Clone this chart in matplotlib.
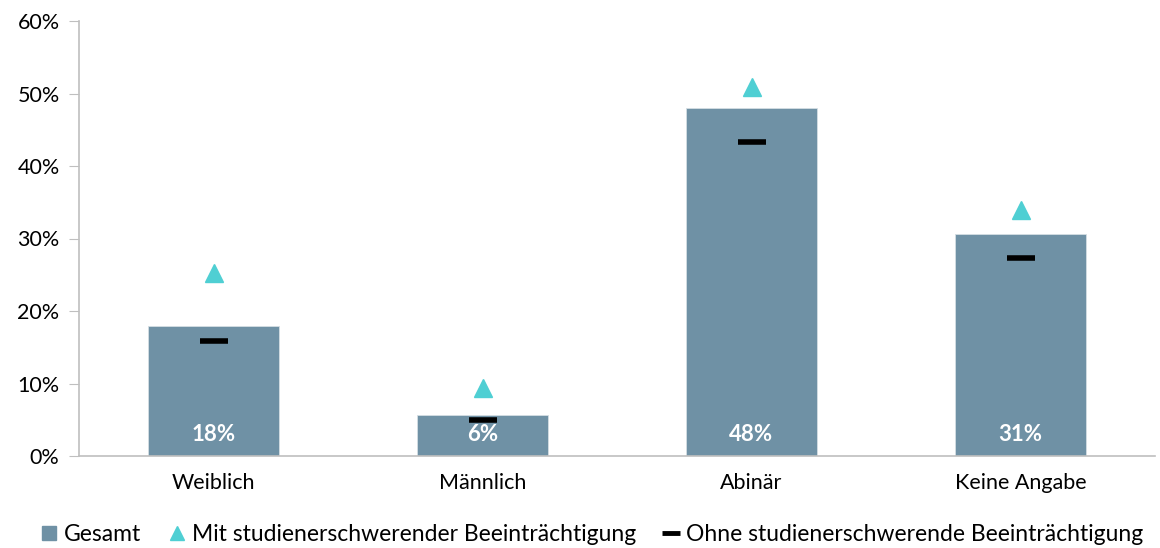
import numpy as np
import matplotlib.pyplot as plt
from matplotlib.ticker import PercentFormatter
from matplotlib.lines import Line2D

# data
categories = ['Weiblich', 'Männlich', 'Abinär', 'Keine Angabe']
gesamt = [17.9, 5.7, 48.0, 30.6]
mit_beeintr = [25.2, 9.4, 50.9, 33.9]
ohne_beeintr = [15.9, 5.0, 43.3, 27.3]
bar_labels = ['18%', '6%', '48%', '31%']

bar_col = '#6F91A5'
tri_col = '#4FCFD3'

plt.rcParams['font.family'] = ['Lato', 'DejaVu Sans']

fig = plt.figure(figsize=(11.6, 5.48), dpi=100)
ax = fig.add_axes([79/1160, 92/548, 1076/1160, 435/548])

x = np.arange(len(categories))
ax.bar(x, gesamt, width=0.49, color=bar_col, edgecolor='#D5DEE4', linewidth=0.6, zorder=2)
ax.plot(x, mit_beeintr, linestyle='none', marker='^', markersize=13, color=tri_col, zorder=3)
ax.plot(x, ohne_beeintr, linestyle='none', marker='_', markersize=20, markeredgewidth=4,
        color='black', zorder=3)

for xi, lab in zip(x, bar_labels):
    ax.text(xi, 3.0, lab, ha='center', va='center', color='white', fontsize=16,
            fontweight='bold', zorder=4)

ax.set_xlim(-0.5, len(categories) - 0.5)
ax.set_ylim(0, 60)
ax.set_yticks(np.arange(0, 61, 10))
ax.yaxis.set_major_formatter(PercentFormatter(decimals=0))
ax.set_xticks(x)
ax.set_xticklabels(categories)
ax.tick_params(axis='y', length=7, color='#BFBFBF', labelsize=15.5, pad=7)
ax.tick_params(axis='x', length=0, labelsize=15.5, pad=12)

for side in ['top', 'right']:
    ax.spines[side].set_visible(False)
for side in ['left', 'bottom']:
    ax.spines[side].set_color('#BFBFBF')
    ax.spines[side].set_linewidth(1.2)

handles = [
    Line2D([], [], linestyle='none', marker='s', markersize=10, color=bar_col),
    Line2D([], [], linestyle='none', marker='^', markersize=10, color=tri_col),
    Line2D([], [], linestyle='none', marker='_', markersize=13, markeredgewidth=3.5, color='black'),
]
labels = ['Gesamt', 'Mit studienerschwerender Beeinträchtigung',
          'Ohne studienerschwerende Beeinträchtigung']
ax.legend(handles, labels, loc='center', bbox_to_anchor=(0.477, -0.18), ncol=3, frameon=False,
          fontsize=16.5, handlelength=0.7, handletextpad=0.3, columnspacing=1.2,
          borderaxespad=0)

plt.savefig('out.png', dpi=100)
